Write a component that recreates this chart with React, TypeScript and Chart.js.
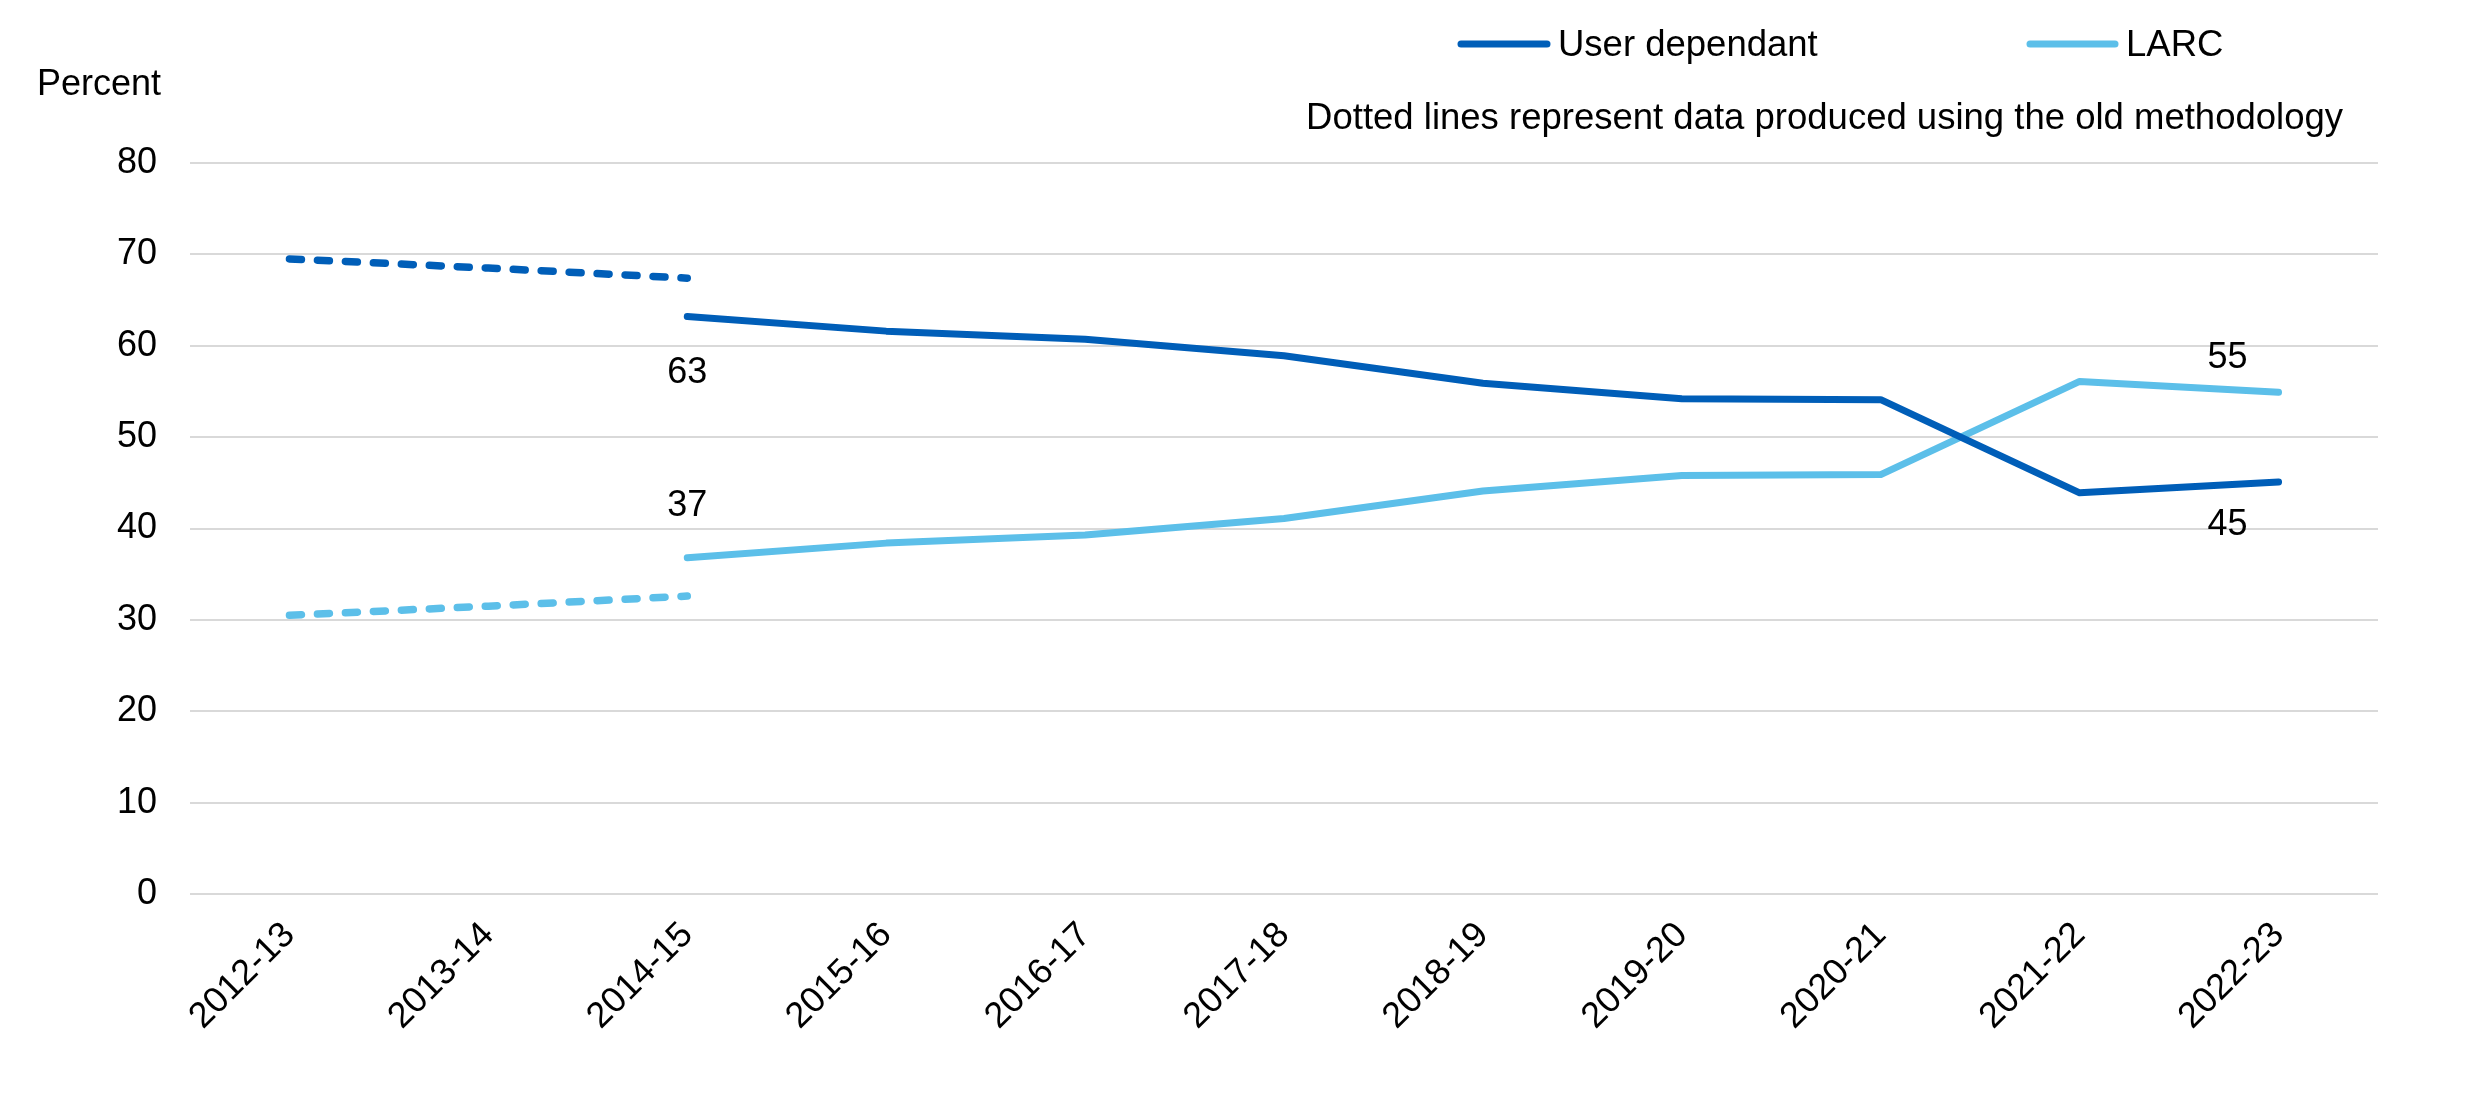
import React, { useEffect, useRef } from "react";
import { Chart, registerables } from "chart.js";

Chart.register(...registerables);

const categories = ["2012-13", "2013-14", "2014-15", "2015-16", "2016-17", "2017-18", "2018-19", "2019-20", "2020-21", "2021-22", "2022-23"];
const userDependant = [null, null, 63.2, 61.6, 60.7, 58.9, 55.9, 54.2, 54.1, 43.9, 45.1];
const larc = [null, null, 36.8, 38.4, 39.3, 41.1, 44.1, 45.8, 45.9, 56.1, 54.9];
const userDependantOld = [69.5, 68.5, 67.4, null, null, null, null, null, null, null, null];
const larcOld = [30.5, 31.5, 32.6, null, null, null, null, null, null, null, null];
const yTicks = [0, 10, 20, 30, 40, 50, 60, 70, 80];
// labelled values: [series, categoryIndex, text]
const dataLabels: [string, number, string][] = [
  ["user", 2, "63"],
  ["larc", 2, "37"],
  ["larc", 10, "55"],
  ["user", 10, "45"],
];

const DARK = "#005EB8";
const LIGHT = "#5CBFE9";
const FONT = '"Liberation Sans", Arial, sans-serif';

export default function App() {
  const ref = useRef<HTMLCanvasElement | null>(null);

  useEffect(() => {
    document.body.style.margin = "0";
    const canvas = ref.current;
    if (!canvas) return;

    const overlay = {
      id: "overlay",
      afterDraw(chart: any) {
        const ctx = chart.ctx;
        const xs = chart.scales.x;
        const ys = chart.scales.y;
        ctx.save();
        ctx.fillStyle = "#000";
        ctx.font = `36px ${FONT}`;
        ctx.textBaseline = "alphabetic";
        ctx.textAlign = "left";
        ctx.fillText("Percent", 37, 95);

        // legend
        ctx.font = `36.5px ${FONT}`;
        ctx.lineCap = "round";
        ctx.lineWidth = 7;
        ctx.strokeStyle = DARK;
        ctx.beginPath();
        ctx.moveTo(1461, 44);
        ctx.lineTo(1547, 44);
        ctx.stroke();
        ctx.fillText("User dependant", 1558, 56);
        ctx.strokeStyle = LIGHT;
        ctx.beginPath();
        ctx.moveTo(2030, 44);
        ctx.lineTo(2115, 44);
        ctx.stroke();
        ctx.fillText("LARC", 2126, 56);

        ctx.textAlign = "right";
        ctx.fillText("Dotted lines represent data produced using the old methodology", 2343, 129);

        // data labels
        ctx.font = `36px ${FONT}`;
        ctx.textAlign = "center";
        ctx.textBaseline = "middle";
        for (const [series, idx, text] of dataLabels) {
          const v = series === "user" ? userDependant[idx] : larc[idx];
          if (v == null) continue;
          const px = xs.getPixelForValue(idx);
          const py = ys.getPixelForValue(v);
          let dx = 0;
          let dy = 0;
          if (idx === 2) {
            dy = series === "user" ? 57 : -52;
          } else {
            dx = -51;
            dy = series === "user" ? 43 : -34;
          }
          ctx.fillText(text, px + dx, py + dy);
        }
        ctx.restore();
      },
    };

    const chart = new Chart(canvas, {
      type: "line",
      data: {
        labels: categories,
        datasets: [
          {
            label: "User dependant",
            data: userDependant,
            borderColor: DARK,
            backgroundColor: DARK,
            borderWidth: 7,
            pointRadius: 0,
            borderCapStyle: "round",
            borderJoinStyle: "round",
            tension: 0,
          },
          {
            label: "LARC",
            data: larc,
            borderColor: LIGHT,
            backgroundColor: LIGHT,
            borderWidth: 7,
            pointRadius: 0,
            borderCapStyle: "round",
            borderJoinStyle: "round",
            tension: 0,
          },
          {
            label: "User dependant (old methodology)",
            data: userDependantOld,
            borderColor: DARK,
            backgroundColor: DARK,
            borderWidth: 7.5,
            borderDash: [12, 16],
            borderCapStyle: "round",
            pointRadius: 0,
            tension: 0,
          },
          {
            label: "LARC (old methodology)",
            data: larcOld,
            borderColor: LIGHT,
            backgroundColor: LIGHT,
            borderWidth: 7.5,
            borderDash: [12, 16],
            borderCapStyle: "round",
            pointRadius: 0,
            tension: 0,
          },
        ],
      },
      options: {
        animation: false,
        responsive: false,
        maintainAspectRatio: false,
        spanGaps: false,
        layout: { padding: { top: 163, right: 108, bottom: 0, left: 0 } },
        plugins: {
          legend: { display: false },
          tooltip: { enabled: false },
        },
        scales: {
          x: {
            type: "category",
            offset: true,
            grid: { display: false, drawTicks: false },
            border: { display: false },
            ticks: {
              color: "#000",
              font: { family: FONT, size: 36 },
              minRotation: 45,
              maxRotation: 45,
              padding: 20,
              autoSkip: false,
            },
            afterFit: (scale: any) => {
              scale.height = 1105 - 894;
            },
          },
          y: {
            min: 0,
            max: 80,
            afterBuildTicks: (scale: any) => {
              scale.ticks = yTicks.map((v) => ({ value: v }));
            },
            grid: { color: "#d9d9d9", lineWidth: 2, drawTicks: false },
            border: { display: false },
            ticks: {
              color: "#000",
              font: { family: FONT, size: 36 },
              padding: 33,
            },
            afterFit: (scale: any) => {
              scale.width = 190;
            },
          },
        },
      },
      plugins: [overlay],
    });

    return () => chart.destroy();
  }, []);

  return (
    <div style={{ width: 2486, height: 1105 }}>
      <canvas ref={ref} width={2486} height={1105} style={{ display: "block" }} />
    </div>
  );
}
